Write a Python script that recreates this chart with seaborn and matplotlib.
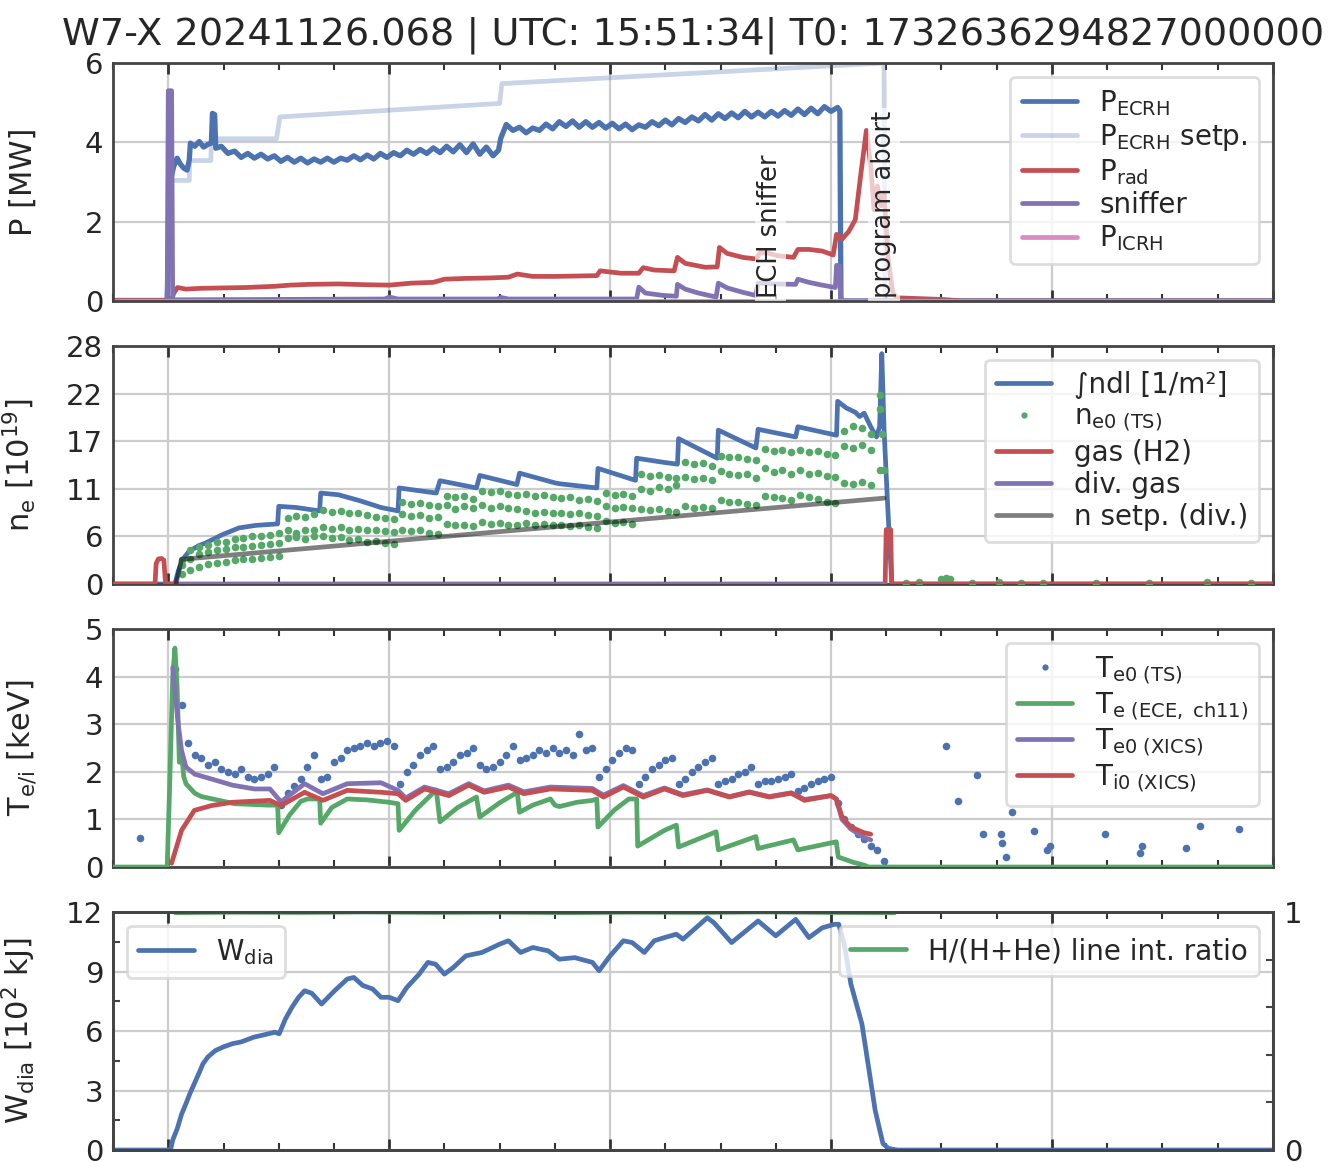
import numpy as np
import pandas as pd
import matplotlib
matplotlib.use("Agg")
import matplotlib.pyplot as plt
import seaborn as sns
from matplotlib.ticker import MultipleLocator

# ---------------- data ----------------
title = "W7-X 20241126.068 | UTC: 15:51:34| T0: 1732636294827000000"

# Panel 1: heating / radiation power [MW]
ecrh_t = [-2.5, -0.05, 0.0, 0.05, 0.12, 0.25, 0.4, 0.55, 0.7, 0.85, 0.95, 1.0, 1.2, 1.4, 1.6, 1.8, 1.95,
          2.0, 2.1, 2.15, 2.4, 2.7, 3.0, 3.3, 3.6, 3.9, 4.2, 4.5, 4.8, 5.1, 5.4, 5.7, 6.0, 6.3, 6.6,
          6.9, 7.2, 7.5, 7.8, 8.1, 8.4, 8.7, 9.0, 9.3, 9.6, 9.9, 10.2, 10.5, 10.8, 11.1, 11.4, 11.7,
          12.0, 12.3, 12.6, 12.9, 13.2, 13.5, 13.8, 14.1, 14.4, 14.7, 14.95, 15.05, 15.3, 15.6, 15.9,
          16.2, 16.5, 16.8, 17.1, 17.4, 17.7, 18.0, 18.3, 18.6, 18.9, 19.2, 19.5, 19.8, 20.1, 20.4,
          20.7, 21.0, 21.3, 21.6, 21.9, 22.2, 22.5, 22.8, 23.1, 23.4, 23.7, 24.0, 24.3, 24.6, 24.9,
          25.2, 25.5, 25.8, 26.1, 26.4, 26.7, 27.0, 27.3, 27.6, 27.9, 28.2, 28.5, 28.8, 29.1, 29.4,
          29.7, 30.0, 30.3, 30.4, 30.45, 50.0]
ecrh_v = [0.0, 0.0, 1.0, 2.5, 3.1, 3.4, 3.6, 3.45, 3.35, 3.3, 3.55, 3.98, 3.9, 4.02, 3.88, 3.95, 3.98,
          4.73, 4.7, 3.85, 3.9, 3.72, 3.78, 3.62, 3.72, 3.6, 3.7, 3.58, 3.66, 3.52, 3.62, 3.5, 3.6, 3.48, 3.58,
          3.5, 3.6, 3.5, 3.6, 3.55, 3.66, 3.56, 3.68, 3.58, 3.72, 3.62, 3.74, 3.66, 3.8, 3.7, 3.82, 3.72,
          3.86, 3.74, 3.9, 3.76, 3.94, 3.74, 3.96, 3.7, 3.88, 3.66, 3.8, 4.1, 4.45, 4.3, 4.38,
          4.24, 4.36, 4.3, 4.46, 4.34, 4.52, 4.4, 4.54, 4.38, 4.52, 4.38, 4.5, 4.36, 4.48, 4.34,
          4.46, 4.32, 4.44, 4.38, 4.52, 4.42, 4.56, 4.44, 4.6, 4.5, 4.64, 4.54, 4.7, 4.56, 4.72,
          4.6, 4.74, 4.62, 4.78, 4.64, 4.76, 4.64, 4.78, 4.66, 4.8, 4.68, 4.84, 4.7, 4.86, 4.72,
          4.9, 4.78, 4.88, 4.8, 0.0, 0.0]

setp_t = [-2.5, -0.05, 0.0, 0.95, 0.97, 1.93, 1.95, 4.9, 5.05, 15.0, 15.1, 32.4, 32.45, 50.0]
setp_v = [0.0, 0.0, 3.04, 3.04, 3.54, 3.54, 4.09, 4.09, 4.64, 4.98, 5.48, 6.0, 0.0, 0.0]

rad_t = [-2.5, 0.15, 0.25, 0.42, 0.8, 1.5, 2.5, 3.5, 4.8, 5.5, 6.4, 7.7, 9.0, 10.0, 11.0, 12.0, 12.5,
         13.5, 14.5, 15.4, 15.8, 16.5, 17.5, 18.5, 19.4, 19.55, 20.5, 21.3, 21.5, 22.0, 22.9, 23.05,
         23.4, 24.3, 24.85, 24.95, 25.3, 26.0, 26.6, 26.8, 27.2, 27.6, 28.3, 28.5, 29.0, 29.6, 30.1,
         30.25, 30.5, 30.8, 31.1, 31.35, 31.6, 31.8, 31.95, 32.1, 32.25, 32.4, 32.6, 32.8, 33.0,
         35.0, 36.0, 50.0]
rad_v = [0.02, 0.02, 0.2, 0.34, 0.3, 0.32, 0.33, 0.34, 0.37, 0.4, 0.42, 0.43, 0.41, 0.4, 0.45, 0.47, 0.55,
         0.57, 0.58, 0.6, 0.68, 0.62, 0.62, 0.63, 0.64, 0.76, 0.7, 0.7, 0.84, 0.78, 0.76, 1.1,
         0.95, 0.85, 0.86, 1.35, 1.2, 1.1, 1.06, 1.22, 1.2, 1.14, 1.1, 1.3, 1.3, 1.26, 1.16,
         1.68, 1.56, 1.75, 2.05, 3.2, 4.3, 3.4, 2.3, 2.9, 2.4, 2.7, 1.0, 0.2, 0.08,
         0.04, 0.0, 0.0]

snf_t = [-2.5, -0.05, 0.0, 0.15, 0.2, 9.8, 10.0, 10.4, 14.9, 15.05, 15.4, 21.2, 21.3, 21.6, 22.4, 23.0,
         23.05, 23.4, 24.0, 24.8, 24.9, 25.3, 26.0, 26.6, 26.7, 27.5, 28.4, 28.5, 29.0, 29.6, 30.2,
         30.25, 30.4, 30.45, 50.0]
snf_v = [0.0, 0.0, 5.3, 5.3, 0.03, 0.05, 0.1, 0.05, 0.05, 0.09, 0.05, 0.05, 0.35, 0.2, 0.14, 0.12,
         0.42, 0.3, 0.2, 0.1, 0.45, 0.33, 0.22, 0.14, 0.45, 0.43, 0.42, 0.55, 0.47, 0.4, 0.34,
         0.9, 0.88, 0.0, 0.0]

icrh_t = [-2.5, 50.0]
icrh_v = [0.0, 0.0]

# Panel 2: density
ndl_t = [-2.5, 0.3, 0.45, 0.65, 0.95, 1.37, 1.7, 2.46, 3.2, 3.97, 4.95, 5.0, 5.8, 6.85, 6.9, 7.7, 8.67,
         9.63, 10.4, 10.45, 12.13, 12.3, 13.95, 14.1, 15.78, 15.9, 17.5, 17.7, 19.4, 19.45, 21.15,
         21.2, 22.46, 23.05, 23.1, 24.85, 24.9, 26.6, 26.7, 28.4, 28.5, 30.25, 30.3, 30.7, 31.1, 31.3,
         31.5, 31.8, 32.06, 32.2, 32.3, 32.4, 32.55, 32.75, 50.0]
ndl_v = [0.0, 0.0, 1.5, 2.9, 3.87, 4.5, 4.84, 5.82, 6.6, 6.9, 7.07, 9.14, 9.0, 8.6, 10.7, 10.5, 9.8,
         9.0, 8.6, 11.3, 10.7, 12.15, 11.3, 12.77, 11.7, 13.04, 11.9, 11.8, 11.3, 13.6, 12.2,
         14.8, 14.3, 14.1, 17.1, 14.8, 18.1, 16.0, 18.2, 17.3, 18.5, 17.5, 21.5, 20.7, 20.2, 19.7,
         20.1, 18.5, 17.3, 18.5, 27.1, 18.3, 10.0, 0.0, 0.0]

ts_t = [0.6, 1.0, 1.4, 1.8, 2.2, 2.6, 3.0, 3.4, 3.8, 4.2, 4.6, 5.0,
        5.4, 5.8, 6.2, 6.6,
        7.0, 7.4, 7.8, 8.2, 8.6, 9.0, 9.4, 9.8, 10.2,
        10.6, 11.0, 11.4, 11.8, 12.2,
        12.6, 13.0, 13.4, 13.8,
        14.2, 14.6, 15.0, 15.4, 15.8,
        16.2, 16.6, 17.0, 17.4, 17.8, 18.2, 18.6, 19.0, 19.4,
        19.8, 20.2, 20.6, 21.0,
        21.4, 21.8, 22.2, 22.6, 23.0,
        23.4, 23.8, 24.2, 24.6,
        25.0, 25.4, 25.8, 26.2, 26.6,
        27.0, 27.4, 27.8, 28.2,
        28.6, 29.0, 29.4, 29.8, 30.2,
        30.6, 31.0, 31.4, 31.8, 32.2]
ne_ts_upper = [2.8, 4.0, 4.3, 4.6, 4.9, 5.0, 5.3, 5.4, 5.6, 5.7, 5.8, 6.0,
               7.8, 8.0, 7.9, 8.2,
               8.7, 8.5, 8.6, 8.3, 8.4, 8.1, 7.9, 7.8, 7.6,
               9.6, 9.4, 9.5, 9.3, 9.2,
               10.4, 10.2, 10.3, 10.0,
               11.0, 10.8, 10.9, 10.6, 10.5,
               10.6, 10.4, 10.5, 10.2, 10.1, 10.2, 9.9, 10.0, 9.8,
               10.7, 10.5, 10.6, 10.4,
               12.9, 12.7, 12.8, 12.6, 12.5,
               14.3, 14.1, 14.2, 13.9,
               15.1, 14.9, 15.0, 14.7, 14.6,
               15.9, 15.7, 15.8, 15.5,
               15.8, 15.5, 15.6, 15.3, 15.2,
               18.0, 18.6, 18.3, 17.6, 22.2]
ne_ts_mid = [2.2, 3.0, 3.5, 3.8, 4.0, 4.1, 4.3, 4.4, 4.5, 4.6, 4.7, 4.8,
             6.3, 6.0, 6.4, 6.3,
             6.7, 6.5, 6.7, 6.4, 6.5, 6.3, 6.4, 6.2, 6.1,
             8.2, 8.0, 8.1, 7.8, 7.9,
             9.3, 8.8, 9.2, 8.9,
             9.3, 9.0, 9.2, 8.9, 8.8,
             8.6, 8.4, 8.5, 8.3, 8.4, 8.2, 8.3, 8.1, 8.0,
             9.2, 9.0, 9.1, 8.9,
             11.2, 11.0, 11.4, 11.2, 11.6,
             12.6, 12.4, 12.5, 12.2,
             13.3, 13.0, 12.8, 12.9, 12.5,
             13.6, 13.2, 13.4, 13.0,
             13.4, 12.9, 13.1, 12.7, 12.6,
             16.2, 16.0, 16.3, 15.8, 20.6]
ne_ts_low = [1.2, 1.7, 2.0, 2.3, 2.5, 2.6, 2.8, 2.9, 3.0, 3.1, 3.2, 3.3,
             5.4, 5.5, 5.3, 5.6,
             5.6, 5.4, 5.5, 5.2, 5.3, 5.0, 5.1, 4.8, 4.7,
             6.4, 6.2, 6.3, 6.0, 5.9,
             7.1, 6.9, 7.0, 6.8,
             7.3, 7.1, 7.2, 7.0, 6.9,
             7.2, 7.0, 7.1, 6.9, 7.0, 6.8, 6.9, 6.7, 6.6,
             7.4, 7.2, 7.3, 7.1,
             8.8, 8.7, 8.8, 8.6, 8.5,
             9.2, 9.0, 9.1, 8.9,
             9.9, 9.7, 9.6, 9.4, 9.3,
             10.3, 10.2, 10.1, 9.9,
             10.5, 10.2, 10.0, 9.7, 9.5,
             11.9, 11.8, 12.0, 11.7, 13.4]
ne_ts_extra_t = [32.3, 32.4, 33.4, 34.0, 35.0, 35.2, 35.4, 36.4, 37.6, 38.6, 39.6, 42.0, 44.4, 47.0, 49.0]
ne_ts_extra_v = [17.6, 13.4, 0.1, 0.2, 0.6, 0.7, 0.6, 0.1, 0.2, 0.15, 0.1, 0.15, 0.1, 0.2, 0.1]

gas_t = [-2.5, -0.6, -0.55, -0.45, -0.3, -0.2, -0.12, 32.45, 32.5, 32.7, 32.75, 50.0]
gas_v = [0.0, 0.0, 2.4, 2.95, 3.0, 2.8, 0.0, 0.0, 6.4, 6.4, 0.0, 0.0]

divgas_t = [0.5, 32.4]
divgas_v = [0.0, 0.0]

nsetp_t = [0.35, 0.6, 32.4]
nsetp_v = [0.0, 2.9, 10.1]

# Panel 3: temperatures [keV]
te_ts_t = [0.3, 0.6, 0.9, 1.2, 1.5, 1.8, 2.1, 2.4, 2.7, 3.0, 3.3, 3.6, 3.9, 4.2, 4.5, 4.8,
           5.1, 5.4, 5.7, 6.0, 6.3, 6.6,
           6.9, 7.2, 7.5, 7.8, 8.1, 8.4, 8.7, 9.0, 9.3, 9.6, 9.9, 10.2,
           10.5, 10.8, 11.1, 11.4, 11.7, 12.0,
           12.3, 12.6, 12.9, 13.2, 13.5, 13.8,
           14.1, 14.4, 14.7, 15.0, 15.3, 15.6,
           15.9, 16.2, 16.5, 16.8, 17.1, 17.4, 17.7, 18.0, 18.3, 18.6, 18.9, 19.2,
           19.5, 19.8, 20.1, 20.4, 20.7, 21.0,
           21.3, 21.6, 21.9, 22.2, 22.5, 22.8,
           23.1, 23.4, 23.7, 24.0, 24.3, 24.6,
           24.9, 25.2, 25.5, 25.8, 26.1, 26.4,
           26.7, 27.0, 27.3, 27.6, 27.9, 28.2,
           28.5, 28.8, 29.1, 29.4, 29.7, 30.0,
           30.3, 30.6, 30.9, 31.2, 31.5, 31.8, 32.1, 32.4]
te_ts_v = [4.15, 3.4, 2.6, 2.35, 2.3, 2.15, 2.2, 2.05, 2.0, 1.95, 2.05, 1.9, 1.85, 1.9, 1.95, 2.1,
           1.3, 1.55, 1.7, 1.85, 2.1, 2.35,
           1.85, 1.9, 2.2, 2.3, 2.45, 2.5, 2.55, 2.6, 2.55, 2.6, 2.65, 2.55,
           1.75, 2.0, 2.15, 2.35, 2.45, 2.55,
           2.05, 2.1, 2.2, 2.35, 2.4, 2.5,
           2.15, 2.05, 2.1, 2.2, 2.35, 2.55,
           2.25, 2.3, 2.35, 2.45, 2.4, 2.5, 2.4, 2.45, 2.35, 2.8, 2.45, 2.5,
           1.9, 2.05, 2.25, 2.4, 2.5, 2.45,
           1.75, 1.9, 2.05, 2.15, 2.25, 2.3,
           1.75, 1.85, 2.0, 2.1, 2.2, 2.3,
           1.75, 1.8, 1.85, 1.95, 2.0, 2.1,
           1.75, 1.8, 1.8, 1.85, 1.9, 1.95,
           1.6, 1.65, 1.75, 1.8, 1.85, 1.9,
           1.35, 1.0, 0.85, 0.7, 0.58, 0.45, 0.35, 0.12]
te_ts_extra_t = [-1.3, 35.2, 35.75, 36.6, 36.9, 37.7, 37.75, 37.9, 38.2, 39.2, 39.8, 39.9, 42.4,
                 44.0, 44.1, 46.05, 46.7, 48.45]
te_ts_extra_v = [0.6, 2.55, 1.39, 1.93, 0.69, 0.69, 0.5, 0.22, 1.16, 0.75, 0.36, 0.45, 0.69,
                 0.29, 0.45, 0.41, 0.86, 0.8]

ece_t = [-2.5, -0.05, 0.05, 0.2, 0.3, 0.4, 0.5, 0.6, 0.7, 0.8, 1.0, 1.2, 1.5, 2.0, 2.5, 3.0, 3.5,
         4.0, 4.5, 4.95, 5.0, 5.5, 6.0, 6.3, 6.85, 6.9, 7.4, 8.1, 9.0, 10.0, 10.4, 10.45, 11.2,
         12.13, 12.3, 13.1, 13.95, 14.1, 15.0, 15.8, 15.9, 16.5, 17.3, 17.5, 17.7, 18.5, 19.2,
         19.4, 19.45, 20.2, 20.85, 21.2, 21.25, 22.46, 23.0, 23.1, 24.8, 24.9, 26.6, 26.7, 28.3,
         28.5, 30.24, 30.33, 31.0, 31.5, 31.7, 50.0]
ece_v = [0.0, 0.0, 1.5, 4.0, 4.6, 3.8, 2.2, 2.4, 1.9, 1.75, 1.65, 1.55, 1.48, 1.43, 1.38, 1.33, 1.32,
         1.31, 1.3, 1.3, 0.72, 1.1, 1.38, 1.43, 1.43, 0.92, 1.25, 1.43, 1.41, 1.36, 1.33, 0.77, 1.2,
         1.62, 0.95, 1.25, 1.47, 1.05, 1.35, 1.57, 1.15, 1.3, 1.43, 1.3, 1.27, 1.36, 1.4,
         1.43, 0.84, 1.2, 1.43, 1.43, 0.44, 0.77, 0.88, 0.42, 0.74, 0.36, 0.64, 0.39, 0.57,
         0.36, 0.53, 0.21, 0.1, 0.04, 0.0, 0.0]

xte_t = [0.2, 0.45, 0.6, 0.8, 1.2, 1.95, 2.9, 3.9, 4.6, 5.1, 6.17, 7.0, 8.1, 9.63, 10.4, 10.75, 11.6,
         12.7, 13.6, 14.3, 15.4, 16.1, 17.3, 19.2, 19.7, 20.6, 21.5, 22.46, 23.3, 24.4, 25.4, 26.3,
         27.2, 28.2, 28.8, 30.0, 30.24, 30.5, 30.9, 31.5, 31.8]
xte_v = [4.19, 3.0, 2.45, 2.1, 1.95, 1.85, 1.72, 1.64, 1.64, 1.37, 1.75, 1.54, 1.75, 1.77, 1.61, 1.45, 1.68,
         1.54, 1.75, 1.6, 1.72, 1.58, 1.68, 1.65, 1.51, 1.71, 1.5, 1.66, 1.52, 1.62, 1.48, 1.58,
         1.48, 1.56, 1.42, 1.5, 1.43, 1.0, 0.8, 0.62, 0.57]

xti_t = [0.15, 0.6, 1.18, 1.95, 2.9, 4.6, 5.1, 6.17, 7.0, 8.1, 9.63, 10.4, 10.75, 11.6, 12.7, 13.6,
         14.3, 15.4, 16.1, 17.3, 19.2, 19.7, 20.6, 21.5, 22.46, 23.3, 24.4, 25.4, 26.3, 27.2, 28.2,
         28.8, 30.0, 30.24, 30.5, 30.9, 31.5, 31.8]
xti_v = [0.08, 0.77, 1.19, 1.29, 1.36, 1.4, 1.29, 1.57, 1.4, 1.61, 1.57, 1.54, 1.4, 1.64, 1.5, 1.72,
         1.57, 1.68, 1.54, 1.64, 1.61, 1.47, 1.68, 1.47, 1.64, 1.5, 1.61, 1.47, 1.57, 1.47, 1.55,
         1.4, 1.5, 1.43, 1.05, 0.84, 0.72, 0.69]

# Panel 4: diamagnetic energy [10^2 kJ] and line ratio
wdia_t = [-2.5, 0.1, 0.2, 0.41, 0.6, 0.8, 1.0, 1.18, 1.4, 1.57, 1.8, 2.14, 2.5, 2.9, 3.3, 3.87, 4.3,
          4.83, 5.02, 5.3, 5.6, 5.9, 6.17, 6.5, 6.94, 7.5, 8.1, 8.4, 8.8, 9.25, 9.63, 10.0, 10.4,
          10.8, 11.36, 11.75, 12.1, 12.5, 12.9, 13.47, 14.2, 15.0, 15.4, 15.95, 16.5, 17.2, 17.7,
          18.4, 19.2, 19.5, 20.0, 20.6, 21.0, 21.55, 22.0, 22.46, 23.0, 23.3, 24.4, 24.7, 25.5,
          26.7, 27.5, 28.4, 29.0, 29.6, 30.15, 30.35, 30.6, 30.9, 31.4, 31.7, 32.0, 32.35, 32.6,
          33.0, 50.0]
wdia_v = [0.0, 0.0, 0.5, 1.09, 1.8, 2.34, 2.9, 3.35, 3.9, 4.35, 4.7, 5.02, 5.2, 5.36, 5.45, 5.69, 5.8,
          5.94, 5.86, 6.6, 7.2, 7.7, 8.03, 7.9, 7.36, 8.0, 8.62, 8.7, 8.3, 8.12, 7.7, 7.7, 7.53,
          8.2, 8.87, 9.46, 9.37, 8.87, 9.2, 9.79, 9.96, 10.38, 10.55, 9.96, 10.21, 10.04, 9.62,
          9.7, 9.46, 9.04, 9.79, 10.55, 10.46, 9.96, 10.55, 10.71, 10.88, 10.63, 11.71, 11.46, 10.46,
          11.55, 10.8, 11.63, 10.71, 11.2, 11.38, 11.38, 10.38, 8.37, 6.36, 4.18, 2.0, 0.33, 0.08,
          0.0, 0.0]

hratio_t = [0.3, 3.0, 6.0, 9.0, 12.0, 15.0, 18.0, 21.0, 24.0, 27.0, 30.0, 32.9]
hratio_v = [0.993, 0.995, 0.994, 0.996, 0.994, 0.995, 0.993, 0.995, 0.994, 0.996, 0.994, 0.993]

# ---------------- style ----------------
sns.set_theme(style="whitegrid", palette="deep")
plt.rcParams["font.family"] = ["DejaVu Sans"]
plt.rcParams["mathtext.default"] = "regular"
plt.rcParams["axes.edgecolor"] = "#444444"
plt.rcParams["axes.linewidth"] = 2.0
plt.rcParams["grid.color"] = "#cccccc"
plt.rcParams["grid.linewidth"] = 1.6

BLUE, GREEN, RED, PURPLE, PINK = "#4C72B0", "#55A868", "#C44E52", "#8172B3", "#DA8BC3"
LW = 3.4
LEG = dict(fontsize=20, framealpha=0.8, edgecolor="#d5d5d5", labelspacing=0.15)

fig = plt.figure(figsize=(13.3, 11.62), dpi=100)
gs = fig.add_gridspec(4, 1, left=0.085, right=0.957, top=0.9458, bottom=0.0103, hspace=0.189)
axes = [fig.add_subplot(gs[i]) for i in range(4)]
for a in axes[1:]:
    a.sharex(axes[0])


def line(ax, t, v, color, lw=LW, alpha=1.0, **kw):
    sns.lineplot(x=t, y=v, ax=ax, color=color, lw=lw, alpha=alpha,
                 sort=False, estimator=None, legend=False, **kw)


def legend(ax, handles, labels, loc):
    lg = ax.legend(handles, labels, loc=loc, **LEG)
    lg.get_frame().set_linewidth(2.0)
    return lg


# Panel 1
ax = axes[0]
line(ax, setp_t, setp_v, BLUE, alpha=0.3)
line(ax, ecrh_t, ecrh_v, BLUE, lw=3.8)
line(ax, rad_t, rad_v, RED)
line(ax, snf_t, snf_v, PURPLE)
line(ax, icrh_t, icrh_v, PINK)
h = [plt.Line2D([], [], color=BLUE, lw=LW),
     plt.Line2D([], [], color=BLUE, lw=LW, alpha=0.3),
     plt.Line2D([], [], color=RED, lw=LW),
     plt.Line2D([], [], color=PURPLE, lw=LW),
     plt.Line2D([], [], color=PINK, lw=LW)]
legend(ax, h, ["P$_{ECRH}$", "P$_{ECRH}$ setp.", "P$_{rad}$", "sniffer", "P$_{ICRH}$"], "upper right")
ax.set_ylim(0, 6)
ax.set_yticks([0, 2, 4, 6])
ax.set_ylabel("P [MW]")
box = dict(facecolor="white", alpha=0.7, edgecolor="none", pad=2)
ax.text(27.26, 0.08, "ECH sniffer", rotation=90, ha="center", va="bottom", fontsize=18.5, bbox=box, zorder=5)
ax.text(32.4, 0.08, "program abort", rotation=90, ha="center", va="bottom", fontsize=18.5, bbox=box, zorder=5)
ax.set_title(title, fontsize=27.5, pad=13)

# Panel 2
ax = axes[1]
line(ax, ndl_t, ndl_v, BLUE)
ne_df = pd.DataFrame({"t": ts_t * 3 + ne_ts_extra_t,
                      "ne": ne_ts_upper + ne_ts_mid + ne_ts_low + ne_ts_extra_v})
sns.scatterplot(data=ne_df, x="t", y="ne", ax=ax, color=GREEN, s=30, linewidth=0, legend=False, zorder=3)
line(ax, gas_t, gas_v, RED, zorder=4)
line(ax, divgas_t, divgas_v, PURPLE, zorder=4)
line(ax, nsetp_t, nsetp_v, "black", alpha=0.5, zorder=4)
h = [plt.Line2D([], [], color=BLUE, lw=LW),
     plt.Line2D([], [], color=GREEN, lw=0, marker="o", ms=4.5, mew=0),
     plt.Line2D([], [], color=RED, lw=LW),
     plt.Line2D([], [], color=PURPLE, lw=LW),
     plt.Line2D([], [], color="black", alpha=0.5, lw=LW)]
legend(ax, h, ["\u222bndl [1/m\u00b2]", "n$_{e0\\ (TS)}$", "gas (H2)", "div. gas", "n setp. (div.)"],
       "upper right")
ax.set_ylim(0, 28)
ax.set_yticks(np.linspace(0, 28, 6))
ax.set_yticklabels(["0", "6", "11", "17", "22", "28"])
ax.set_ylabel("n$_e$ [10$^{19}$]")

# Panel 3
ax = axes[2]
te_df = pd.DataFrame({"t": te_ts_t + te_ts_extra_t, "te": te_ts_v + te_ts_extra_v})
sns.scatterplot(data=te_df, x="t", y="te", ax=ax, color=BLUE, s=30, linewidth=0, legend=False, zorder=2)
line(ax, ece_t, ece_v, GREEN, zorder=3)
line(ax, xte_t, xte_v, PURPLE, zorder=3)
line(ax, xti_t, xti_v, RED, zorder=3)
h = [plt.Line2D([], [], color=BLUE, lw=0, marker="o", ms=4.5, mew=0),
     plt.Line2D([], [], color=GREEN, lw=LW),
     plt.Line2D([], [], color=PURPLE, lw=LW),
     plt.Line2D([], [], color=RED, lw=LW)]
legend(ax, h, ["T$_{e0\\ (TS)}$", "T$_{e\\ (ECE,\\ ch11)}$", "T$_{e0\\ (XICS)}$", "T$_{i0\\ (XICS)}$"],
       "upper right")
ax.set_ylim(0, 5)
ax.set_yticks([0, 1, 2, 3, 4, 5])
ax.set_ylabel("T$_{e/i}$ [keV]")

# Panel 4
ax = axes[3]
line(ax, wdia_t, wdia_v, BLUE)
legend(ax, [plt.Line2D([], [], color=BLUE, lw=LW)], ["W$_{dia}$"], "upper left")
ax.set_ylim(0, 12)
ax.set_yticks([0, 3, 6, 9, 12])
ax.yaxis.set_minor_locator(MultipleLocator(1.5))
ax.tick_params(axis="y", which="minor", direction="in", length=5, width=1.5, left=True, color="#444444")
ax.set_ylabel("W$_{dia}$ [10$^2$ kJ]")
axr = ax.twinx()
line(axr, hratio_t, hratio_v, GREEN, lw=2)
axr.set_ylim(0, 1)
axr.set_yticks([0, 1])
axr.yaxis.set_minor_locator(MultipleLocator(0.2))
axr.grid(False)
axr.tick_params(axis="y", which="major", direction="in", length=0, labelsize=21, pad=8)
axr.tick_params(axis="y", which="minor", direction="in", length=5, width=1.5, right=True, color="#444444")
axr.set_ylabel("")
legend(axr, [plt.Line2D([], [], color=GREEN, lw=LW)], ["H/(H+He) line int. ratio"], "upper right")
for s in axr.spines.values():
    s.set_color("#444444")
    s.set_linewidth(2.0)

for ax in axes:
    ax.set_xlim(-2.5, 50)
    ax.xaxis.set_major_locator(MultipleLocator(10))
    ax.xaxis.set_minor_locator(MultipleLocator(2.5))
    ax.tick_params(axis="x", which="both", direction="in", top=True, bottom=True, labelbottom=False,
                   color="#333333")
    ax.tick_params(axis="x", which="major", length=8, width=2)
    ax.tick_params(axis="x", which="minor", length=5, width=1.5)
    ax.tick_params(axis="y", which="major", direction="in", length=0, labelsize=21, pad=7)
    ax.set_xlabel("")
    ax.yaxis.label.set_size(22)
    ax.yaxis.set_label_coords(-0.065, 0.5)
    ax.grid(True, which="major", color="#cccccc", lw=1.6)
    ax.grid(False, which="minor")
    for s in ax.spines.values():
        s.set_color("#444444")
        s.set_linewidth(2.0)

fig.savefig("out.png", dpi=100)
